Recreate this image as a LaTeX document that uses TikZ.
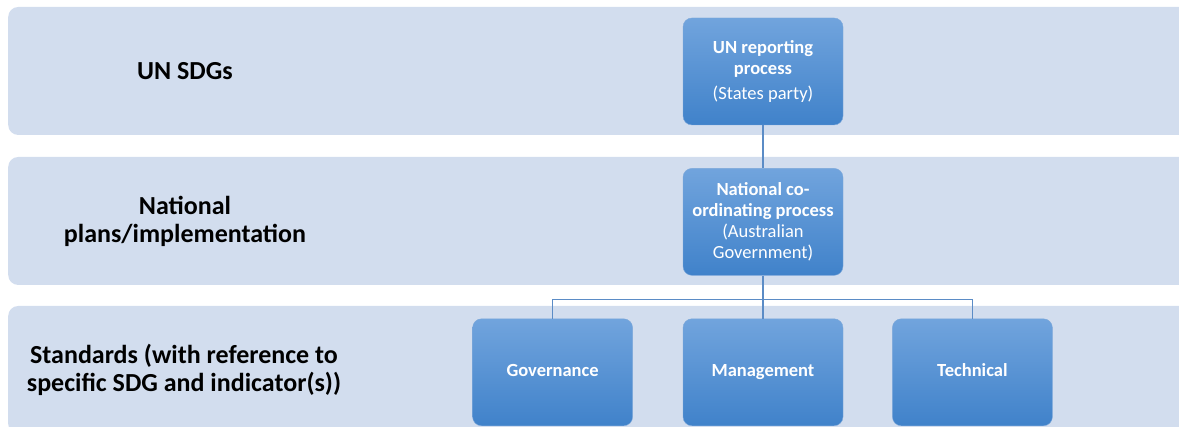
\documentclass[tikz,border=0pt]{standalone}
\usepackage{fontspec}
\setmainfont{Carlito}
\usetikzlibrary{positioning}
\definecolor{bandfill}{RGB}{210,221,238}
\definecolor{boxtop}{RGB}{113,164,221}
\definecolor{boxbot}{RGB}{64,130,202}
\definecolor{boxline}{RGB}{125,168,218}
\definecolor{linkcol}{RGB}{91,140,198}
\tikzset{%
  band/.style = {rectangle,rounded corners=10pt,fill=bandfill,
        minimum width=1200pt,minimum height=128pt,anchor=west},
  lbl/.style = {align=center,font=\fontsize{26}{28}\selectfont\bfseries},
  t/.style = {rectangle,rounded corners=9pt,draw=boxline,top color=boxtop,
        bottom color=boxbot,text=white,minimum width=160pt,
        minimum height=107pt,inner sep=0pt,align=center,
        font=\fontsize{18.5}{21}\selectfont},
  link/.style = {draw=linkcol,line width=1.3pt}
}

\begin{document}
\begin{tikzpicture}[x=1pt,y=1pt]
    \path[use as bounding box,clip] (0,0) rectangle (1179,427);
    % rows
    \node[band] (row1) at (8,356) {};
    \node[band] (row2) at (8,206) {};
    \node[band] (row3) at (8,57) {};
    \node[lbl] (sdg) at (185,356) {UN SDGs};
    \node[lbl] (plans) at (185,206) {National\\plans/implementation};
    \node[lbl] (std) at (184,57) {Standards (with reference to\\specific SDG and indicator(s))};
    % boxes
    \node[t] (un) at (763,355.5) {\textbf{UN reporting}\\\textbf{process}\\[4pt](States party)};
    \node[t,below=43pt of un] (nat) {\textbf{National co-}\\\textbf{ordinating process}\\(Australian\\Government)};
    \node[t,below=43pt of nat] (mgmt) {\textbf{Management}\strut};
    \node[t,left=50pt of mgmt] (gov) {\textbf{Governance}\strut};
    \node[t,right=49pt of mgmt] (tech) {\textbf{Technical}\strut};
    \coordinate[below=24pt of nat.south] (bus);
    \draw[link] (un) -- (nat);
    \draw[link] (nat) -- (mgmt);
    \draw[link] (bus) -| (gov);
    \draw[link] (bus) -| (tech);
\end{tikzpicture}
\end{document}
